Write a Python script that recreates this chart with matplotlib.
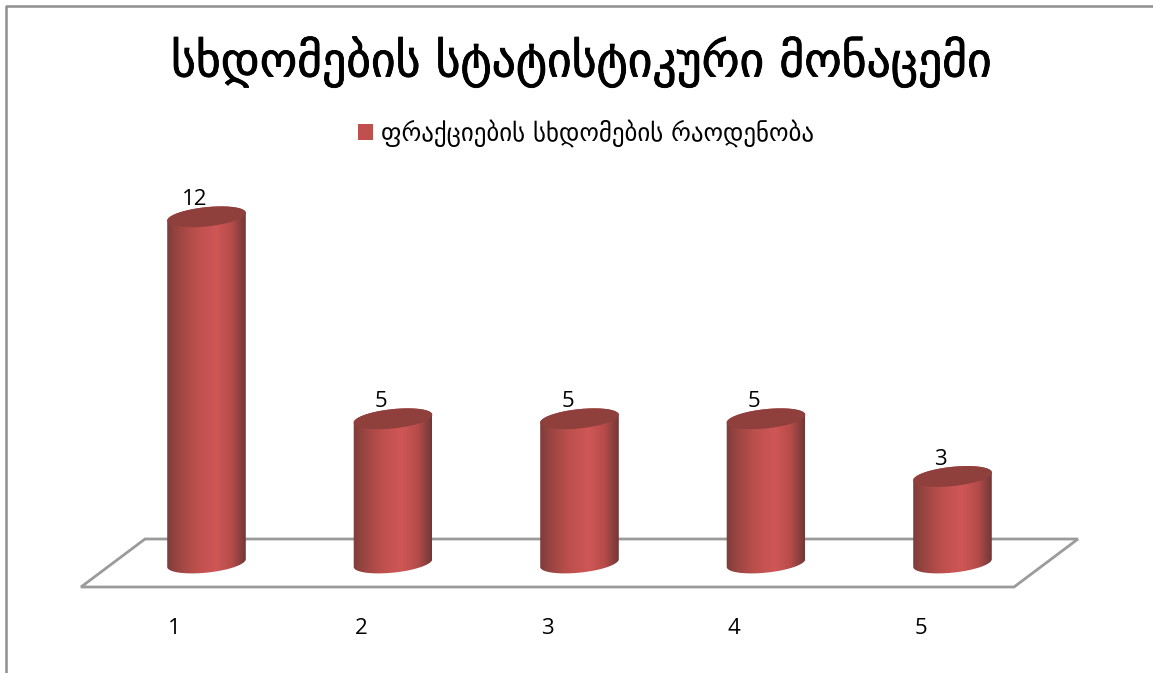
import numpy as np
import matplotlib
matplotlib.use("Agg")
import matplotlib.pyplot as plt
import matplotlib.patheffects as pe
from matplotlib.patches import Patch, Polygon
from matplotlib.colors import LinearSegmentedColormap

title = "სხდომების სტატისტიკური მონაცემი"
series_name = "ფრაქციების სხდომების რაოდენობა"
categories = ["1", "2", "3", "4", "5"]
values = [12, 5, 5, 5, 3]

W, H = 1153, 673
fig = plt.figure(figsize=(W / 100, H / 100), dpi=100, facecolor="white")
plt.rcParams["font.family"] = ["Open Sans", "DejaVu Sans"]

# axes placed over the floor of the chart (pixel geometry of the reference)
L, R, B, T = 81, 1014, 587, 190
ax = fig.add_axes([L / W, 1 - B / H, (R - L) / W, (B - T) / H])
ax.set_facecolor("none")
PX_X = 186.5      # px per category
PX_Y = 28.85      # px per unit
X0 = 206.5        # px of first category
Y0 = 563.0        # px of zero
xlim = ((L - X0) / PX_X, (R - X0) / PX_X)
ylim = ((Y0 - B) / PX_Y, (Y0 - T) / PX_Y)

cmap = LinearSegmentedColormap.from_list(
    "cyl", [(0, "#7e3c3a"), (0.10, "#934340"), (0.35, "#bb4f4c"), (0.62, "#cf5756"),
            (0.82, "#b54c4a"), (0.93, "#8c403e"), (1, "#743634")])
grad = np.linspace(0, 1, 256)[None, :]

a, b, tilt = 39.5, 9.6, np.deg2rad(6.0)


def ellipse(cx, cy, t):
    """Tilted ellipse around a data point, returned in data coordinates."""
    dx = a * np.cos(t) * np.cos(tilt) - b * np.sin(t) * np.sin(tilt)
    dy = a * np.cos(t) * np.sin(tilt) + b * np.sin(t) * np.cos(tilt)
    return cx + dx / PX_X, cy + dy / PX_Y


xs = np.arange(len(values))
tt = np.linspace(0, 2 * np.pi, 120)
for x, v in zip(xs, values):
    lx, ly = ellipse(x, 0, np.linspace(np.pi, 2 * np.pi, 60))
    ux, uy = ellipse(x, v, np.linspace(0, np.pi, 60))
    outline = np.r_[np.c_[lx, ly], np.c_[ux, uy]]
    # side of the cylinder
    im = ax.imshow(grad, cmap=cmap, aspect="auto", interpolation="bilinear",
                   extent=(x - a / PX_X, x + a / PX_X, ylim[0], v + 1), zorder=3)
    poly = Polygon(outline, closed=True, transform=ax.transData, fc="none", ec="none")
    ax.add_patch(poly)
    im.set_clip_path(poly)
    # top of the cylinder
    ex, ey = ellipse(x, v, tt)
    ax.fill(ex, ey, color="#8f3f3c", lw=0, zorder=4, clip_on=False)
    ax.annotate(str(v), (x, v), xytext=(-12, 17), textcoords="offset pixels",
                ha="center", va="center", fontsize=16, color="black", zorder=5,
                annotation_clip=False)

ax.set_xlim(*xlim)
ax.set_ylim(*ylim)
ax.set_xticks(xs - 32 / PX_X, categories)
ax.set_yticks([])
ax.tick_params(axis="x", length=0, pad=22, labelsize=16, labelcolor="black")
for s in ax.spines.values():
    s.set_visible(False)

# floor of the 3D chart
floor = [(145, 539), (1078, 539), (1014, 587), (81, 587)]
fig.add_artist(Polygon([(px / W, 1 - py / H) for px, py in floor], closed=True,
                       transform=fig.transFigure, fc="white", ec="#9b9b9b", lw=2.0, zorder=-1))

# outer frame of the chart object
fig.add_artist(plt.Line2D([5.5 / W, 5.5 / W, 1], [0, 1 - 6 / H, 1 - 6 / H],
                          transform=fig.transFigure, color="#8f8f8f", lw=1.8, zorder=-1))

t = fig.text(581 / W, 1 - 62 / H, title, ha="center", va="center", fontsize=34.3,
             family=["DejaVu Sans"], color="black")
t.set_path_effects([pe.withStroke(linewidth=0.6, foreground="black")])

handle = Patch(facecolor="#c0504d", edgecolor="none", label=series_name)
FS = 17.9
leg = fig.legend(handles=[handle], loc="center", bbox_to_anchor=(586 / W, 1 - 133 / H),
                 frameon=False, handlelength=10.8 / FS, handleheight=10.8 / FS,
                 handletextpad=0.3, prop={"family": ["DejaVu Sans"], "size": FS})

fig.savefig("out.png", dpi=100, facecolor="white")
